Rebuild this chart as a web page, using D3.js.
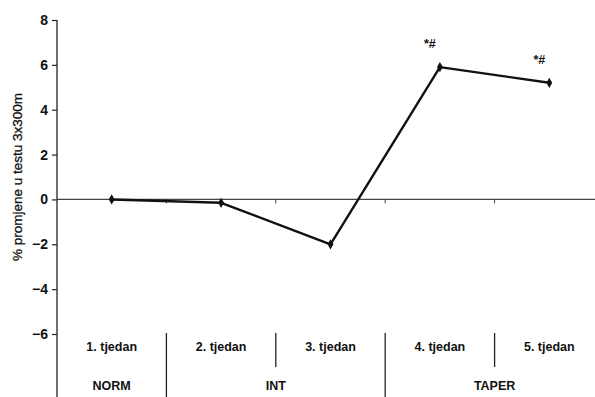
<!DOCTYPE html>
<html>
<head>
<meta charset="utf-8">
<script src="https://cdn.jsdelivr.net/npm/d3@7"></script>
<style>
html,body{margin:0;padding:0;background:#fff;}
svg{display:block;font-family:"Liberation Sans",Arial,sans-serif;}
</style>
</head>
<body>
<svg id="chart" width="595" height="397"></svg>
<script>
const categories = ["1. tjedan","2. tjedan","3. tjedan","4. tjedan","5. tjedan"];
const values = [0, -0.15, -2.0, 5.9, 5.2];
const annotations = ["", "", "", "*#", "*#"];
const groups = [
  {label: "NORM", start: 0, end: 0},
  {label: "INT", start: 1, end: 2},
  {label: "TAPER", start: 3, end: 4}
];
const yTicks = [-6,-4,-2,0,2,4,6,8];
const yTitle = "% promjene u testu 3x300m";

const svg = d3.select("#chart");
const x0 = 57, band = 109.4;
const x = d3.scaleBand().domain(categories).range([x0, x0 + band*categories.length]).padding(0);
const y = d3.scaleLinear().domain([-6, 8]).range([334, 20]);

// y axis line (extends to bottom)
svg.append("line").attr("x1", x0).attr("x2", x0).attr("y1", y(8)).attr("y2", 397)
  .attr("stroke", "#222").attr("stroke-width", 1.3);

const yAxis = d3.axisLeft(y).tickValues(yTicks).tickSize(5).tickPadding(4)
  .tickFormat(d => d < 0 ? "\u2212" + Math.abs(d) : String(d));
const ga = svg.append("g").attr("transform", `translate(${x0},0)`).call(yAxis);
ga.select(".domain").remove();
ga.selectAll(".tick line").attr("stroke", "#222").attr("stroke-width", 1.2);
ga.selectAll(".tick text").attr("font-size", 14).attr("font-weight", "bold").attr("fill", "#111")
  .attr("font-family", "Liberation Sans, Arial, sans-serif");

// y title
svg.append("text").attr("transform", `translate(22,${(y(8)+y(-6))/2}) rotate(-90)`)
  .attr("text-anchor", "middle").attr("font-size", 13.5).attr("font-weight", "normal").attr("fill", "#111")
  .attr("stroke", "#111").attr("stroke-width", 0.3)
  .text(yTitle);

// zero line
svg.append("line").attr("x1", x0).attr("x2", 595).attr("y1", y(0)).attr("y2", y(0))
  .attr("stroke", "#444").attr("stroke-width", 1.2);
// minor ticks on zero line at band boundaries
categories.slice(1).forEach(c => {
  svg.append("line").attr("x1", x(c)).attr("x2", x(c)).attr("y1", y(0)).attr("y2", y(0)+4)
    .attr("stroke", "#444").attr("stroke-width", 1);
});

// category labels
svg.selectAll(".cat").data(categories).enter().append("text")
  .attr("x", d => x(d) + x.bandwidth()/2).attr("y", 351)
  .attr("text-anchor", "middle").attr("font-size", 12.5).attr("font-weight", "bold").attr("fill", "#111")
  .text(d => d);

// dividers between categories: long for group boundaries, short within groups
categories.slice(1).forEach((c, i) => {
  const idx = i + 1;
  const isGroupBoundary = groups.some(g => g.start === idx);
  svg.append("line").attr("x1", x(c)).attr("x2", x(c)).attr("y1", 333).attr("y2", isGroupBoundary ? 397 : 367)
    .attr("stroke", "#222").attr("stroke-width", 1.3);
});

// group labels
groups.forEach(g => {
  const xs = x(categories[g.start]), xe = x(categories[g.end]) + x.bandwidth();
  svg.append("text").attr("x", (xs+xe)/2).attr("y", 390).attr("text-anchor", "middle")
    .attr("font-size", 12.5).attr("font-weight", "bold").attr("fill", "#111").text(g.label);
});

// line
const pts = categories.map((c, i) => [x(c) + x.bandwidth()/2, y(values[i])]);
svg.append("path").attr("d", d3.line()(pts)).attr("fill", "none").attr("stroke", "#111")
  .attr("stroke-width", 2.4).attr("stroke-linejoin", "round");

// markers (diamonds)
svg.selectAll(".pt").data(pts).enter().append("path")
  .attr("d", d3.symbol().type(d3.symbolDiamond).size(30))
  .attr("transform", d => `translate(${d[0]},${d[1]})`).attr("fill", "#111");

// annotations
svg.selectAll(".ann").data(categories).enter().append("text")
  .attr("x", (d) => x(d) + x.bandwidth()/2 - 10)
  .attr("y", (d, i) => y(values[i]) - 19)
  .attr("text-anchor", "middle").attr("font-size", 12.5).attr("font-weight", "bold").attr("fill", "#111")
  .text((d, i) => annotations[i]);
</script>
</body>
</html>
